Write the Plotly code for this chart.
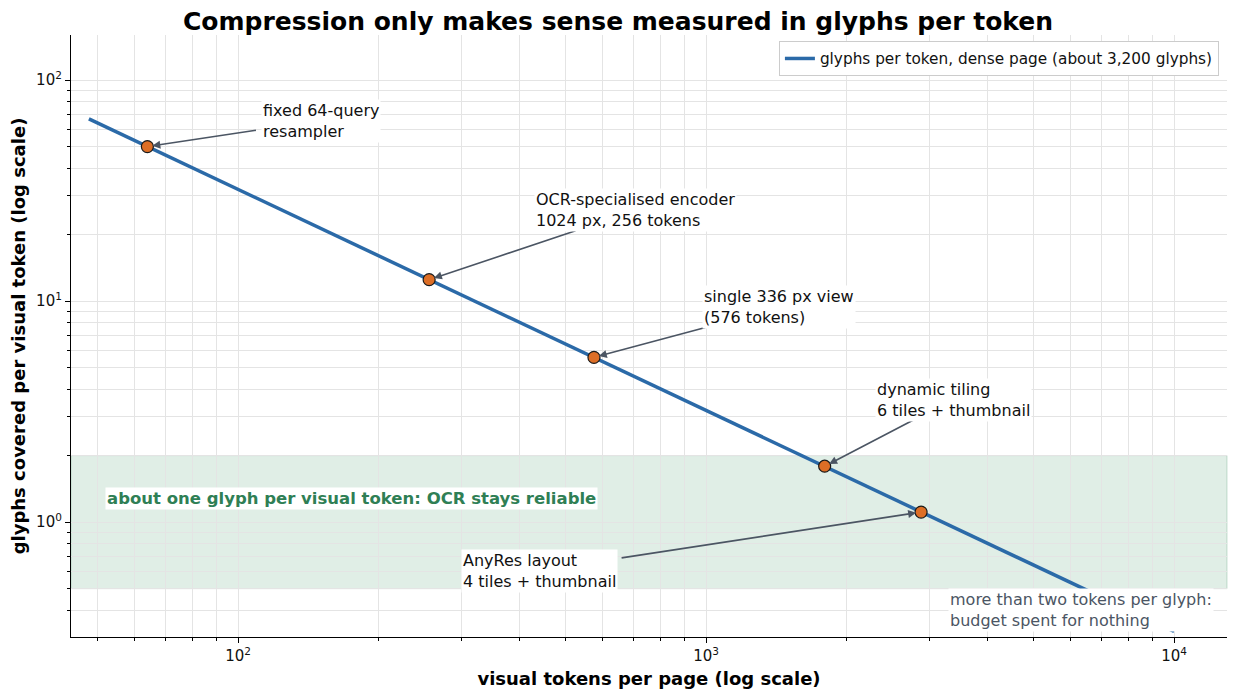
import numpy as np
import plotly.graph_objects as go

# data: glyphs per visual token on a dense page (about 3,200 glyphs)
LINE_TOKENS = [48, 10000]
LINE_GLYPHS = [66.7, 0.32]

POINT_TOKENS = [64, 256, 576, 1792, 2880]
POINT_GLYPHS = [50.0, 12.5, 5.56, 1.79, 1.11]

LABELS = [
    "fixed 64-query<br>resampler",
    "OCR-specialised encoder<br>1024 px, 256 tokens",
    "single 336 px view<br>(576 tokens)",
    "dynamic tiling<br>6 tiles + thumbnail",
    "AnyRes layout<br>4 tiles + thumbnail",
]
# where each label sits (left edge, vertical middle) and where its arrow starts
LABEL_X = [112, 429, 980, 2300, 299]
LABEL_Y = [65, 25.8, 9.4, 3.56, 0.60]
TAIL_X = [110, 530, 1004, 2800, 655]
TAIL_Y = [59.4, 20.9, 7.63, 2.93, 0.687]

BAND_LOW, BAND_HIGH = 0.5, 2.0

X_TICKS = [100, 1000, 10000]
X_TICK_LABELS = ["10<sup>2</sup>", "10<sup>3</sup>", "10<sup>4</sup>"]
Y_TICKS = [1, 10, 100]
Y_TICK_LABELS = ["10<sup>0</sup>", "10<sup>1</sup>", "10<sup>2</sup>"]

PALETTE = {
    "line": "#2b6aa8",
    "marker": "#dd6e26",
    "arrow": "#4b5563",
    "band": "rgba(46, 139, 87, 0.15)",
    "band_text": "#2f7f55",
    "note": "#4b5563",
    "grid": "#e4e4e4",
}
FONT = "DejaVu Sans"

fig = go.Figure()

fig.add_hrect(y0=BAND_LOW, y1=BAND_HIGH, fillcolor=PALETTE["band"],
              line=dict(color="rgba(46,139,87,0.25)", width=1), layer="below")

fig.add_trace(go.Scatter(
    x=LINE_TOKENS, y=LINE_GLYPHS, mode="lines",
    name="glyphs per token, dense page (about 3,200 glyphs)",
    line=dict(color=PALETTE["line"], width=3.5),
))
fig.add_trace(go.Scatter(
    x=POINT_TOKENS, y=POINT_GLYPHS, mode="markers", showlegend=False,
    marker=dict(size=12, color=PALETTE["marker"], line=dict(color="#1a1a1a", width=1.2)),
))

annotations = []
for i, text in enumerate(LABELS):
    # arrow only
    annotations.append(dict(
        x=np.log10(POINT_TOKENS[i]), y=np.log10(POINT_GLYPHS[i]),
        ax=np.log10(TAIL_X[i]), ay=np.log10(TAIL_Y[i]),
        xref="x", yref="y", axref="x", ayref="y",
        text="", showarrow=True, arrowhead=2, arrowsize=1, arrowwidth=1.6,
        arrowcolor=PALETTE["arrow"], standoff=5,
    ))
    annotations.append(dict(
        x=np.log10(LABEL_X[i]), y=np.log10(LABEL_Y[i]), xref="x", yref="y",
        text=text, showarrow=False, xanchor="left", yanchor="middle", align="left",
        font=dict(family=FONT, size=16, color="#111111"),
        bgcolor="white", borderpad=1,
    ))

annotations.append(dict(
    x=np.log10(52), y=np.log10(1.28), xref="x", yref="y",
    text="<b>about one glyph per visual token: OCR stays reliable</b>",
    showarrow=False, xanchor="left", yanchor="middle",
    font=dict(family=FONT, size=16.5, color=PALETTE["band_text"]),
    bgcolor="white", borderpad=1,
))
annotations.append(dict(
    x=np.log10(3290), y=np.log10(0.40), xref="x", yref="y",
    text="more than two tokens per glyph:<br>budget spent for nothing",
    showarrow=False, xanchor="left", yanchor="middle", align="left",
    font=dict(family=FONT, size=16, color=PALETTE["note"]),
    bgcolor="white", borderpad=1,
))

axis_common = dict(
    type="log", tickmode="array",
    showline=True, linecolor="black", linewidth=1.2,
    ticks="outside", ticklen=5, tickcolor="black",
    showgrid=True, gridcolor=PALETTE["grid"], gridwidth=1,
    zeroline=False, mirror=False, automargin=False,
    tickfont=dict(family=FONT, size=15, color="#111111"),
    minor=dict(dtick="D1", ticks="outside", ticklen=3, tickcolor="black",
               showgrid=True, gridcolor=PALETTE["grid"], gridwidth=1),
)

# the page body adds an 8 px offset, so the figure is sized to fit inside the window
fig.update_layout(
    width=1220, height=684,
    paper_bgcolor="white", plot_bgcolor="white",
    margin=dict(l=63, r=1, t=27, b=55),
    font=dict(family=FONT, color="#111111"),
    title=dict(
        text="<b>Compression only makes sense measured in glyphs per token</b>",
        x=0.5, xref="container", xanchor="center", y=0.980, yref="container", yanchor="middle",
        font=dict(family=FONT, size=25, color="black"),
    ),
    xaxis=dict(axis_common, range=[1.643, 4.113],
               tickvals=X_TICKS, ticktext=X_TICK_LABELS,
               title=dict(text="<b>visual tokens per page (log scale)</b>", standoff=8,
                          font=dict(family=FONT, size=18, color="black"))),
    yaxis=dict(axis_common, range=[-0.52, 2.204],
               tickvals=Y_TICKS, ticktext=Y_TICK_LABELS,
               title=dict(text="<b>glyphs covered per visual token (log scale)</b>", standoff=12,
                          font=dict(family=FONT, size=18, color="black"))),
    legend=dict(
        x=0.993, xanchor="right", y=0.99, yanchor="top",
        bgcolor="white", bordercolor="#cccccc", borderwidth=1,
        font=dict(family=FONT, size=15.3, color="#111111"),
    ),
    annotations=annotations,
    showlegend=True,
)

fig.write_html("out.html")
